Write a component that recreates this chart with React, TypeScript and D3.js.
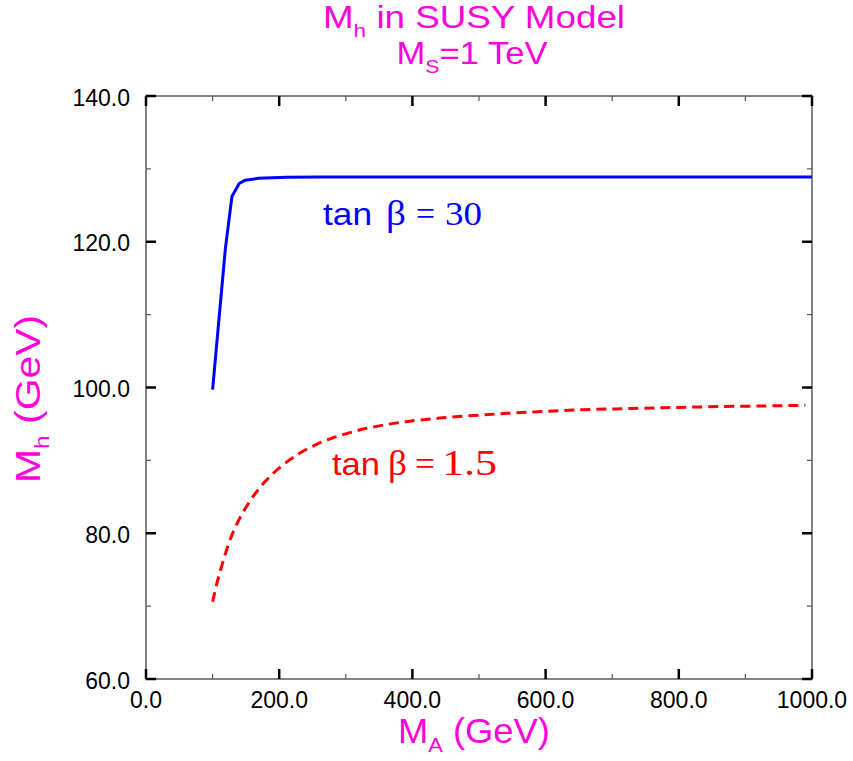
import React from "react";
import * as d3 from "d3";

const xMajorTicks = [0, 200, 400, 600, 800, 1000];
const xMinorTicks = [100, 300, 500, 700, 900];
const yMajorTicks = [60, 80, 100, 120, 140];
const yMinorTicks = [70, 90, 110, 130];

// tan beta = 30 (solid blue)
const tb30MA = [100, 119, 129, 140, 149, 169, 211, 261, 500, 1000];
const tb30Mh = [99.7, 118.9, 126.2, 128.0, 128.45, 128.7, 128.84, 128.88, 128.9, 128.9];

// tan beta = 1.5 (dashed red)
const tb15MA = [100, 109, 131, 156, 181, 206, 231, 256, 281, 306, 331, 381, 441, 542, 642, 742, 842, 990];
const tb15Mh = [70.6, 74.0, 80.2, 84.4, 87.3, 89.4, 91.0, 92.2, 93.1, 93.8, 94.4, 95.2, 95.8, 96.45, 96.9, 97.15, 97.35, 97.55];

const MAG = "#ff00dd";
const SANS = "'Liberation Sans', Arial, Helvetica, sans-serif";
const SERIF = "'Liberation Serif', 'Times New Roman', serif";

export default function App() {
  const W = 853, H = 761;
  const left = 146, right = 812, top = 96, bottom = 679;
  const x = d3.scaleLinear().domain([0, 1000]).range([left, right]);
  const y = d3.scaleLinear().domain([60, 140]).range([bottom, top]);
  const fmt = d3.format(".1f");

  const blueLine = d3.line<number>().x((d, i) => x(tb30MA[i])).y((d) => y(d)).curve(d3.curveLinear)(tb30Mh) || "";
  const redLine = d3.line<number>().x((d, i) => x(tb15MA[i])).y((d) => y(d)).curve(d3.curveCatmullRom.alpha(0.5))(tb15Mh) || "";

  const majLen = 10, minLen = 5;

  const annBlue = [
    { t: "tan", x: 323, w: 49, f: SANS, s: 32 },
    { t: "β", x: 386, w: 20, f: SERIF, s: 36 },
    { t: "=", x: 416, w: 19, f: SERIF, s: 34 },
    { t: "30", x: 445, w: 37, f: SERIF, s: 34 },
  ];
  const annRed = [
    { t: "tan", x: 332, w: 48, f: SANS, s: 32 },
    { t: "β", x: 388, w: 19, f: SERIF, s: 36 },
    { t: "=", x: 415, w: 20, f: SERIF, s: 34 },
    { t: "1.5", x: 442, w: 55, f: SERIF, s: 35 },
  ];

  return (
    <svg width={W} height={H} style={{ position: "absolute", left: 0, top: 0, background: "#fff" }} fontFamily={SANS}>
      <rect x={0} y={0} width={W} height={H} fill="#fff" />
      {/* title */}
      <text x={474} y={28} textAnchor="middle" fill={MAG} fontSize={31} textLength={302} lengthAdjust="spacingAndGlyphs">
        M<tspan fontSize={19} dy={9}>h</tspan><tspan dy={-9}> in SUSY Model</tspan>
      </text>
      <text x={472} y={64} textAnchor="middle" fill={MAG} fontSize={31} textLength={151} lengthAdjust="spacingAndGlyphs">
        M<tspan fontSize={19} dy={9}>S</tspan><tspan dy={-9}>=1 TeV</tspan>
      </text>

      {/* frame */}
      <rect x={left} y={top} width={right - left} height={bottom - top} fill="none" stroke="#666" strokeWidth={1.6} />

      {/* x ticks */}
      {xMinorTicks.map((v) => (
        <g key={"xm" + v} stroke="#555" strokeWidth={1.2}>
          <line x1={x(v)} x2={x(v)} y1={bottom} y2={bottom - minLen} />
          <line x1={x(v)} x2={x(v)} y1={top} y2={top + minLen} />
        </g>
      ))}
      {xMajorTicks.map((v) => (
        <g key={"xM" + v}>
          <line x1={x(v)} x2={x(v)} y1={bottom} y2={bottom - majLen} stroke="#000" strokeWidth={2.5} />
          <line x1={x(v)} x2={x(v)} y1={top} y2={top + majLen} stroke="#000" strokeWidth={2.5} />
          <text x={x(v)} y={708} textAnchor="middle" fontSize={23} fill="#000">{fmt(v)}</text>
        </g>
      ))}
      {/* y ticks */}
      {yMinorTicks.map((v) => (
        <g key={"ym" + v} stroke="#555" strokeWidth={1.2}>
          <line x1={left} x2={left + minLen} y1={y(v)} y2={y(v)} />
          <line x1={right} x2={right - minLen} y1={y(v)} y2={y(v)} />
        </g>
      ))}
      {yMajorTicks.map((v) => (
        <g key={"yM" + v}>
          <line x1={left} x2={left + majLen} y1={y(v)} y2={y(v)} stroke="#000" strokeWidth={2.5} />
          <line x1={right} x2={right - majLen} y1={y(v)} y2={y(v)} stroke="#000" strokeWidth={2.5} />
          <text x={130} y={y(v) + 9.5} textAnchor="end" fontSize={23} fill="#000">{fmt(v)}</text>
        </g>
      ))}

      {/* curves */}
      <path d={blueLine} fill="none" stroke="#0000ff" strokeWidth={3} strokeLinejoin="round" />
      <path d={redLine} fill="none" stroke="#ff0000" strokeWidth={3} strokeDasharray="10,6" />

      {/* annotations */}
      {annBlue.map((a, i) => (
        <text key={"ab" + i} x={a.x} y={225} fill="#0000ff" fontFamily={a.f} fontSize={a.s} textLength={a.w} lengthAdjust="spacingAndGlyphs">{a.t}</text>
      ))}
      {annRed.map((a, i) => (
        <text key={"ar" + i} x={a.x} y={475} fill="#ff0000" fontFamily={a.f} fontSize={a.s} textLength={a.w} lengthAdjust="spacingAndGlyphs">{a.t}</text>
      ))}

      {/* axis titles */}
      <text x={474} y={743} textAnchor="middle" fill={MAG} fontSize={35} textLength={152} lengthAdjust="spacingAndGlyphs">
        M<tspan fontSize={21} dy={9}>A</tspan><tspan dy={-9}> (GeV)</tspan>
      </text>
      <text transform="translate(40,399) rotate(-90)" x={0} y={0} textAnchor="middle" fill={MAG} fontSize={35} textLength={168} lengthAdjust="spacingAndGlyphs">
        M<tspan fontSize={21} dy={9}>h</tspan><tspan dy={-9}> (GeV)</tspan>
      </text>
    </svg>
  );
}
